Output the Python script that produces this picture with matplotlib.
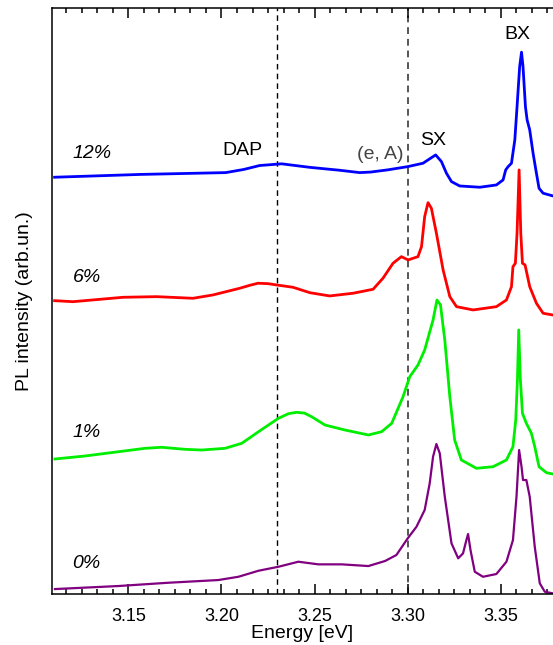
import matplotlib.pyplot as plt
from matplotlib.ticker import MultipleLocator, AutoMinorLocator

plt.rcParams['font.family'] = ['Liberation Sans', 'DejaVu Sans']

# Spectra (energy in eV, PL intensity with vertical offset, arb. units)
e_12 = [3.1104, 3.1566, 3.2023, 3.2120, 3.2205, 3.2323, 3.2474, 3.2550, 3.2629, 3.2742,
        3.2800, 3.2893, 3.3000, 3.3082, 3.3150, 3.3181, 3.3208, 3.3235, 3.3279, 3.3387,
        3.3476, 3.3512, 3.3526, 3.3539, 3.3557, 3.3575, 3.3587, 3.3601, 3.3611, 3.3619,
        3.3632, 3.3641, 3.3655, 3.3673, 3.3691, 3.3705, 3.3727, 3.3779]
i_12 = [7.117, 7.165, 7.196, 7.250, 7.317, 7.346, 7.286, 7.262, 7.238, 7.196,
        7.205, 7.243, 7.298, 7.356, 7.498, 7.384, 7.185, 7.042, 6.968, 6.946,
        6.985, 7.071, 7.242, 7.298, 7.356, 7.754, 8.323, 9.006, 9.252, 9.006,
        8.323, 8.096, 7.925, 7.527, 7.185, 6.929, 6.844, 6.798]

e_6 = [3.1104, 3.1203, 3.1471, 3.1651, 3.1847, 3.1954, 3.2098, 3.2150, 3.2196, 3.2250,
       3.2295, 3.2384, 3.2474, 3.2581, 3.2706, 3.2814, 3.2867, 3.2921, 3.2966, 3.3002,
       3.3055, 3.3074, 3.3091, 3.3109, 3.3127, 3.3154, 3.3190, 3.3226, 3.3262, 3.3351,
       3.3476, 3.3530, 3.3557, 3.3565, 3.3578, 3.3587, 3.3598, 3.3607, 3.3616, 3.3630,
       3.3655, 3.3691, 3.3727, 3.3779]
i_6 = [5.009, 4.992, 5.067, 5.078, 5.050, 5.107, 5.221, 5.270, 5.307, 5.300,
       5.278, 5.238, 5.146, 5.090, 5.136, 5.204, 5.392, 5.648, 5.761, 5.705,
       5.761, 5.932, 6.444, 6.683, 6.588, 6.161, 5.534, 5.078, 4.907, 4.851,
       4.907, 5.021, 5.248, 5.590, 5.648, 6.161, 7.242, 6.161, 5.648, 5.619,
       5.248, 4.965, 4.794, 4.765]

e_1 = [3.1106, 3.1267, 3.1447, 3.1589, 3.1679, 3.1804, 3.1894, 3.2019, 3.2109, 3.2199,
       3.2306, 3.2360, 3.2404, 3.2445, 3.2484, 3.2556, 3.2663, 3.2789, 3.2860, 3.2914,
       3.2975, 3.3011, 3.3055, 3.3091, 3.3136, 3.3157, 3.3176, 3.3199, 3.3226, 3.3252,
       3.3288, 3.3369, 3.3458, 3.3530, 3.3565, 3.3580, 3.3589, 3.3596, 3.3605, 3.3616,
       3.3637, 3.3664, 3.3682, 3.3705, 3.3745, 3.3779]
i_1 = [2.306, 2.357, 2.430, 2.488, 2.506, 2.471, 2.459, 2.488, 2.574, 2.772,
       3.001, 3.080, 3.103, 3.090, 3.028, 2.886, 2.801, 2.716, 2.772, 2.915,
       3.370, 3.711, 3.911, 4.167, 4.680, 5.021, 4.936, 4.338, 3.370, 2.630,
       2.289, 2.147, 2.174, 2.289, 2.516, 2.972, 3.655, 4.509, 3.655, 3.086,
       2.915, 2.745, 2.516, 2.174, 2.072, 2.050]

e_0 = [3.1106, 3.1447, 3.1715, 3.1983, 3.2091, 3.2199, 3.2306, 3.2413, 3.2520, 3.2646,
       3.2789, 3.2878, 3.2939, 3.3000, 3.3047, 3.3091, 3.3118, 3.3136, 3.3154, 3.3172,
       3.3199, 3.3235, 3.3271, 3.3297, 3.3315, 3.3324, 3.3337, 3.3360, 3.3404, 3.3476,
       3.3530, 3.3565, 3.3584, 3.3598, 3.3611, 3.3619, 3.3637, 3.3655, 3.3682, 3.3709,
       3.3736, 3.3779]
i_0 = [0.085, 0.137, 0.193, 0.239, 0.295, 0.398, 0.466, 0.552, 0.507, 0.507,
       0.478, 0.564, 0.666, 0.951, 1.149, 1.435, 1.891, 2.345, 2.562, 2.403,
       1.662, 0.866, 0.610, 0.695, 0.922, 1.025, 0.752, 0.381, 0.295, 0.342,
       0.552, 0.922, 1.662, 2.459, 2.174, 1.947, 1.947, 1.662, 0.808, 0.183,
       0.039, 0.012]

sample_labels = ['12%', '6%', '1%', '0%']
label_y = [7.53, 5.40, 2.75, 0.53]
colors = ['#0000ff', '#ff0000', '#00ee00', '#800080']

# Peak annotations
peak_names = ['DAP', '(e, A)', 'SX', 'BX']
peak_x = [3.2114, 3.2850, 3.3134, 3.3591]
peak_y = [7.58, 7.51, 7.75, 9.55]
dash_lines = [3.23, 3.30]

fig = plt.figure(figsize=(5.53, 6.45), dpi=100)
ax = fig.add_axes([0.094, 0.079, 0.906, 0.908])

for e, i, c, lw in zip([e_12, e_6, e_1, e_0], [i_12, i_6, i_1, i_0], colors,
                       [2.0, 2.0, 2.0, 1.6]):
    ax.plot(e, i, color=c, lw=lw, solid_joinstyle='round')

ax.axvline(dash_lines[0], color='black', lw=1.0, ls=(0, (4, 3)), zorder=0)
ax.axvline(dash_lines[1], color='#555555', lw=1.4, ls=(0, (3.5, 2.5)), zorder=0)

for lab, y in zip(sample_labels, label_y):
    ax.text(3.1201, y, lab, fontsize=14, style='italic', va='center', ha='left')

for name, x, y in zip(peak_names, peak_x, peak_y):
    col = '#444444' if name == '(e, A)' else 'black'
    ax.text(x, y, name, fontsize=14, ha='center', va='center', color=col)

ax.set_xlim(3.109, 3.378)
ax.set_ylim(0, 10)
ax.xaxis.set_major_locator(MultipleLocator(0.05))
ax.xaxis.set_minor_locator(AutoMinorLocator(6))
ax.xaxis.set_major_formatter(plt.FuncFormatter(lambda v, p: f'{v:.2f}'))
ax.set_yticks([])
ax.tick_params(axis='x', which='both', direction='in', top=True, labelsize=13, width=1.1)
ax.tick_params(axis='x', which='major', length=7, pad=10)
ax.tick_params(axis='x', which='minor', length=3.5)
ax.spines['right'].set_visible(False)
for s in ['left', 'top', 'bottom']:
    ax.spines[s].set_linewidth(1.1)

ax.set_xlabel('Energy [eV]', fontsize=14, labelpad=0)
ax.set_ylabel('PL intensity (arb.un.)', fontsize=14, labelpad=14)

fig.savefig('out.png', dpi=100)
